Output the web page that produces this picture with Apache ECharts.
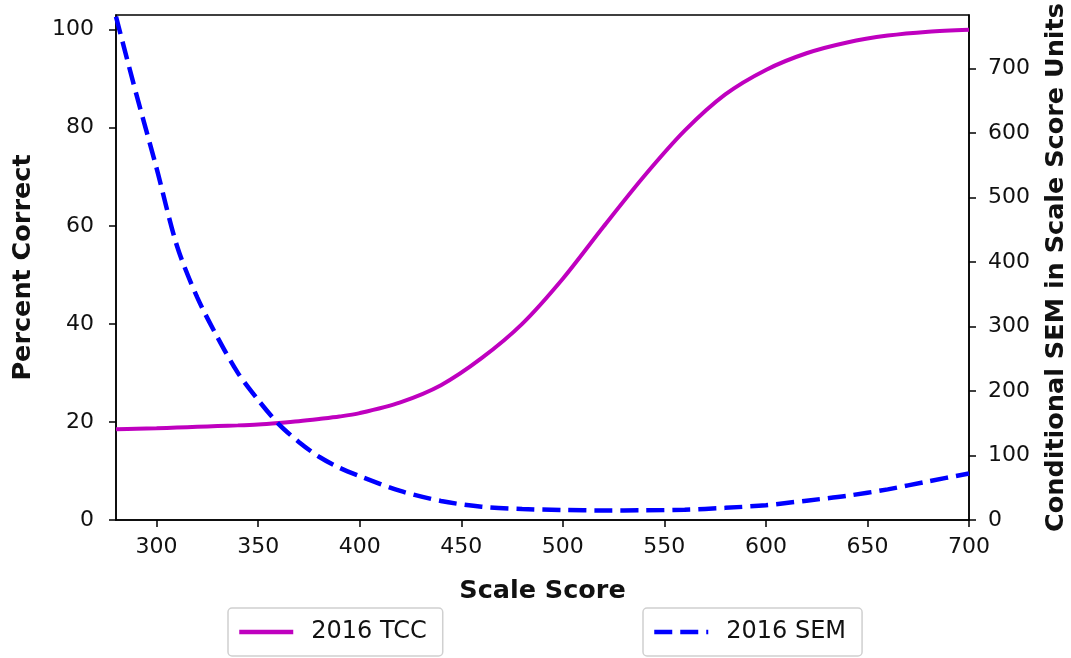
<!DOCTYPE html>
<html>
<head>
<meta charset="utf-8">
<title>2016 TCC / SEM</title>
<script src="https://cdn.jsdelivr.net/npm/echarts@6.0.0/dist/echarts.min.js"></script>
<style>
  html, body { margin: 0; padding: 0; background: #fff; }
  #chart { width: 1071px; height: 658px; }
</style>
</head>
<body>
<div id="chart"></div>
<script>
// scale scores (x) and the two curves
const scores = [280, 290, 300, 310, 320, 330, 340, 350, 360, 370, 380, 390, 400,
  420, 440, 460, 480, 500, 520, 540, 560, 580, 600, 620, 640, 660, 680, 700]
const tcc = [18.5, 18.6, 18.7, 18.85, 19.0, 19.15, 19.3, 19.5, 19.8, 20.15, 20.6, 21.1, 21.8,
  24.0, 27.5, 33.0, 40.0, 49.2, 59.8, 70.1, 79.4, 86.8, 91.8, 95.2, 97.4, 98.8, 99.6, 100.0]
const sem = [780, 660, 545, 425, 345, 283, 228, 186, 149, 121, 98, 81, 68,
  45, 29.5, 20.5, 17, 15.5, 14.8, 15, 16, 18.8, 23, 30, 37.5, 47.5, 60, 72]

const xTicks = [300, 350, 400, 450, 500, 550, 600, 650, 700]
const leftTicks = [0, 20, 40, 60, 80, 100]
const rightTicks = [0, 100, 200, 300, 400, 500, 600, 700]

const font = 'DejaVu Sans'
const ink = '#111'

const chart = echarts.init(document.getElementById('chart'))

const axisText = { color: ink, fontSize: 22, fontFamily: font }
const nameText = { color: ink, fontSize: 25.5, fontFamily: font, fontWeight: 'bold' }
const blackLine = { lineStyle: { color: '#000', width: 1.5 } }

const legendBox = (name, left) => ({
  data: [name],
  left, top: 608,
  orient: 'horizontal',
  itemWidth: 54, itemHeight: 24,
  padding: [12, 16, 12, 9],
  borderColor: '#d0d0d0', borderWidth: 1.5, borderRadius: 4,
  itemStyle: { opacity: 0 },
  lineStyle: { width: 4.5 },
  textStyle: { color: ink, fontSize: 24, fontFamily: font, padding: [0, 0, 0, 13] },
})

chart.setOption({
  animation: false,
  grid: {
    left: 116, right: 102, top: 15, bottom: 138, outerBoundsMode: 'none',
    show: true, borderColor: '#000', borderWidth: 1.5,
  },
  legend: [legendBox('2016 TCC', 228), legendBox('2016 SEM', 643)],
  xAxis: {
    type: 'value', min: 280, max: 700,
    name: 'Scale Score', nameLocation: 'middle', nameGap: 58, nameTextStyle: nameText,
    axisLine: blackLine,
    axisTick: { show: true, length: 7, customValues: xTicks, lineStyle: { color: '#000', width: 1.5 } },
    axisLabel: { ...axisText, margin: 16, customValues: xTicks },
    splitLine: { show: false },
  },
  yAxis: [{
    type: 'value', min: 0, max: 103, position: 'left',
    name: 'Percent Correct', nameLocation: 'middle', nameGap: 80, nameRotate: 90, nameTextStyle: nameText,
    axisLine: { show: true, ...blackLine },
    axisTick: { show: true, length: 7, customValues: leftTicks, lineStyle: { color: '#000', width: 1.5 } },
    axisLabel: { ...axisText, margin: 22, customValues: leftTicks },
    splitLine: { show: false },
  }, {
    type: 'value', min: 0, max: 782.6, position: 'right',
    name: 'Conditional SEM in Scale Score Units', nameLocation: 'middle', nameGap: 74, nameRotate: 90, nameTextStyle: nameText,
    axisLine: { show: true, ...blackLine },
    axisTick: { show: true, length: 7, customValues: rightTicks, lineStyle: { color: '#000', width: 1.5 } },
    axisLabel: { ...axisText, margin: 19, customValues: rightTicks },
    splitLine: { show: false },
  }],
  series: [{
    name: '2016 TCC', type: 'line', yAxisIndex: 0,
    data: scores.map((s, i) => [s, tcc[i]]),
    smooth: 0.3, symbol: 'none',
    lineStyle: { color: '#bf00bf', width: 4 },
    itemStyle: { color: '#bf00bf' },
  }, {
    name: '2016 SEM', type: 'line', yAxisIndex: 1,
    data: scores.map((s, i) => [s, sem[i]]),
    smooth: 0.3, symbol: 'none',
    lineStyle: { color: '#0000ff', width: 4.5, type: [18, 8] },
    itemStyle: { color: '#0000ff' },
  }],
})
</script>
</body>
</html>
